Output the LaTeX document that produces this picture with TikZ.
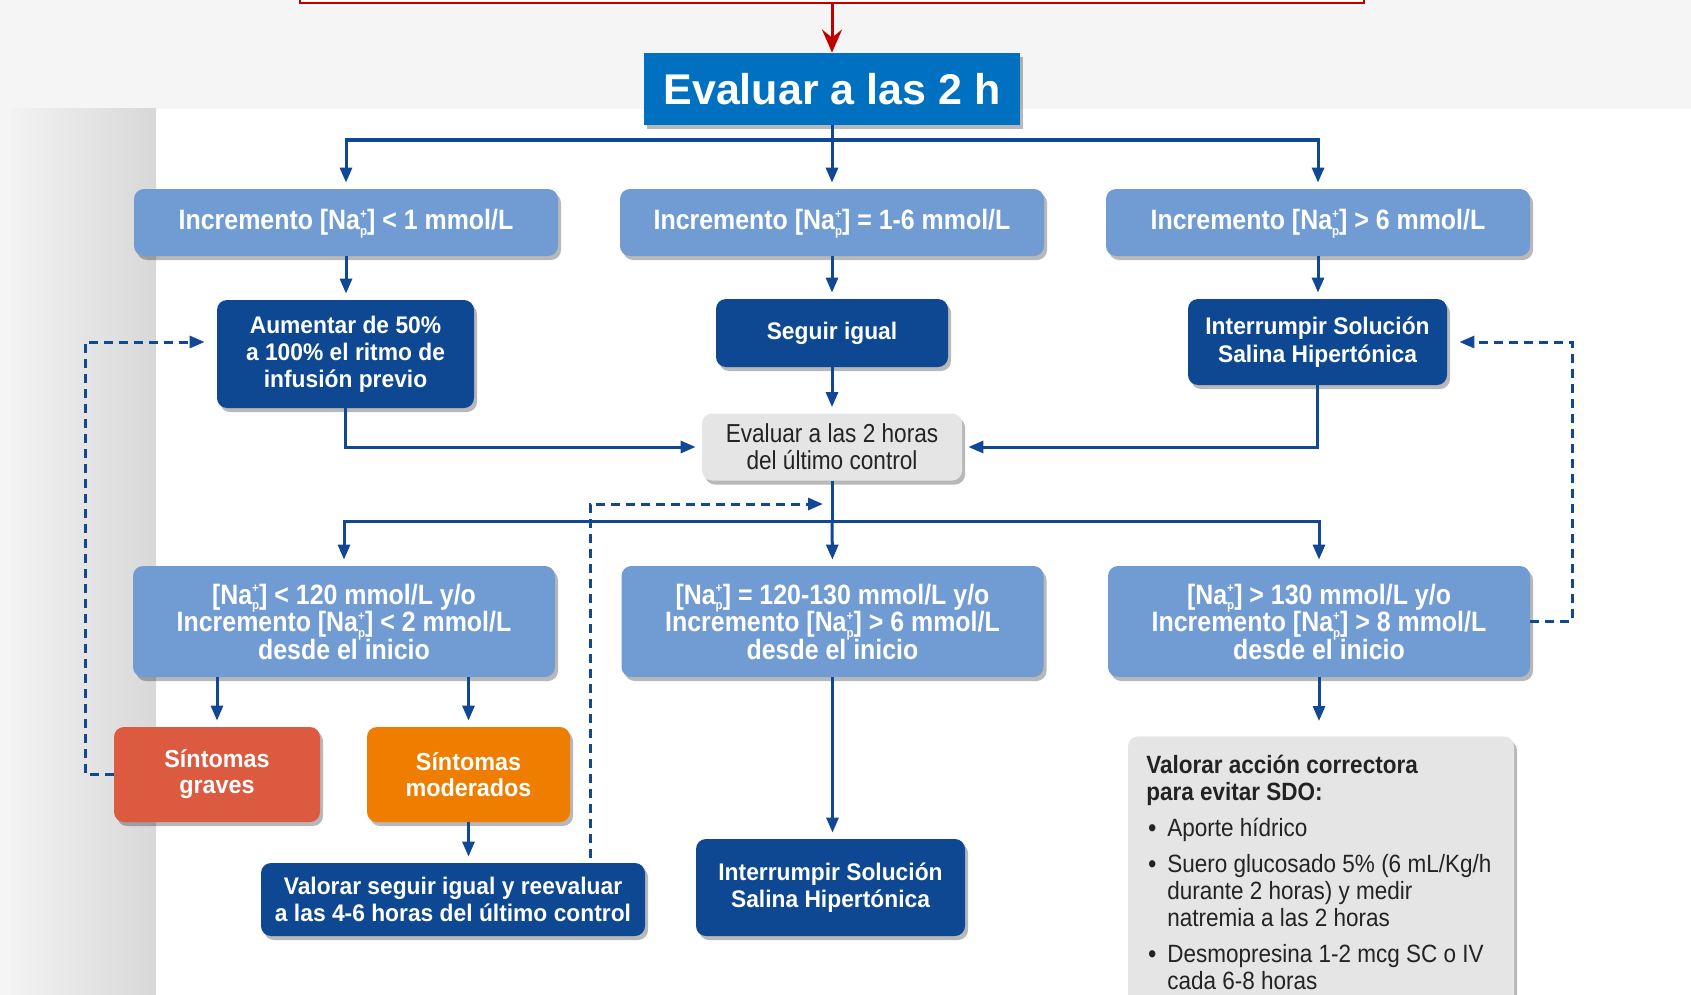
\documentclass[tikz,border=0pt]{standalone}
\usepackage{fontspec}
\setmainfont{Liberation Sans}
\newfontfamily\fwide[FakeStretch=0.95]{Liberation Sans}
\newfontfamily\frow[FakeStretch=0.89]{Liberation Sans}
\newfontfamily\fmidw[FakeStretch=0.87]{Liberation Sans}
\newfontfamily\fgray[FakeStretch=0.9]{Liberation Sans}
\usetikzlibrary{arrows.meta,shadows}
\definecolor{lblue}{RGB}{112,156,211}
\definecolor{dblue}{RGB}{14,72,146}
\definecolor{lnblue}{RGB}{16,72,150}
\definecolor{tblue}{RGB}{0,112,192}
\definecolor{redc}{RGB}{192,0,0}
\definecolor{grav}{RGB}{220,90,64}
\definecolor{moder}{RGB}{239,125,0}
\definecolor{boxgray}{RGB}{229,229,229}
\definecolor{bandgray}{RGB}{245,245,245}
\definecolor{stripL}{RGB}{242,242,242}
\definecolor{stripD}{RGB}{216,216,216}
\definecolor{txtdark}{RGB}{35,35,35}
\newcommand\nap{[Na\rlap{\smash{\raisebox{0.40em}{\fontsize{6.5}{6.5}\selectfont +}}}\smash{\raisebox{-0.2em}{\fontsize{6.5}{6.5}\selectfont p}}]}
\begin{document}
\begin{tikzpicture}[x=0.5pt,y=-0.5pt,
  shd/.style={drop shadow={shadow xshift=1.5pt,shadow yshift=-2pt,opacity=0.28,fill=black}},
  box/.style={rounded corners=5pt, inner sep=0pt, align=center, text=white, shd},
  lbbox/.style={box, fill=lblue},
  rowone/.style={lbbox, minimum width=212pt, minimum height=33.5pt, font=\frow\bfseries\fontsize{14}{15}\selectfont},
  rowthree/.style={lbbox, minimum width=211pt, minimum height=55.5pt, font=\frow\bfseries\fontsize{14}{13.75}\selectfont},
  dbbox/.style={box, fill=dblue, font=\fwide\bfseries\fontsize{12}{13.5}\selectfont},
  symbox/.style={box, minimum height=47.5pt, font=\fwide\bfseries\fontsize{12.3}{13}\selectfont},
  conn/.style={draw=lnblue, line width=1.5pt},
  arr/.style={conn, -{Triangle[width=6pt,length=7.5pt]}, shorten >=3pt},
  darr/.style={conn, dash pattern=on 4.5pt off 3pt, -{Triangle[width=6pt,length=7.5pt]}, shorten >=6pt}
]
\useasboundingbox (0,0) rectangle (1691,995);
\clip (0,0) rectangle (1691,995);
% background
\fill[white] (0,0) rectangle (1691,995);
\fill[bandgray] (0,0) rectangle (1691,109);
\fill[bandgray] (0,109) rectangle (11,995);
\shade[left color=stripL, right color=stripD] (11,109) rectangle (156,995);

% top red box and title
\node[draw=redc, line width=1pt, fill=white, minimum width=532pt, minimum height=20pt, inner sep=0pt] (rb) at (832,-17) {};
\node[fill=tblue, minimum width=188pt, minimum height=36pt, inner sep=0pt, text=white,
      font=\bfseries\fontsize{21.5}{24}\selectfont, shd] (title) at (832,89) {Evaluar a las 2 h};
\draw[redc, line width=1.5pt, -{Stealth[width=10pt,length=11.5pt,inset=4pt]}] (rb.south) -- (title.north);

% row 1
\node[rowone] (a1) at (346,222.5) {Incremento \nap{} < 1 mmol/L};
\node[rowone] (b1) at (832,222.5) {Incremento \nap{} = 1-6 mmol/L};
\node[rowone] (c1) at (1318,222.5) {Incremento \nap{} > 6 mmol/L};

% row 2
\node[dbbox, minimum width=128.5pt, minimum height=54pt] (a2) at (345.5,354) {Aumentar de 50\%\\a 100\% el ritmo de\\infusión previo};
\node[dbbox, minimum width=116pt, minimum height=34pt] (b2) at (832,333) {Seguir igual};
\node[dbbox, minimum width=129.5pt, minimum height=43pt, font=\fwide\bfseries\fontsize{12}{14}\selectfont] (c2) at (1317.5,342) {Interrumpir Solución\\Salina Hipertónica};

% evaluation box
\node[box, fill=boxgray, text=txtdark, minimum width=130pt, minimum height=33.5pt,
      font=\fmidw\fontsize{13}{13.5}\selectfont] (e) at (832,447) {Evaluar a las 2 horas\\del último control};

% row 3
\node[rowthree] (a3) at (344,621.5) {\nap{} < 120 mmol/L y/o\\Incremento \nap{} < 2 mmol/L\\desde el inicio};
\node[rowthree] (b3) at (832.5,621.5) {\nap{} = 120-130 mmol/L y/o\\Incremento \nap{} > 6 mmol/L\\desde el inicio};
\node[rowthree] (c3) at (1319,621.5) {\nap{} > 130 mmol/L y/o\\Incremento \nap{} > 8 mmol/L\\desde el inicio};

% symptoms
\node[symbox, fill=grav, minimum width=103pt] (sg) at (217,774.5) {Síntomas\\graves};
\node[symbox, fill=moder, minimum width=101.5pt] (sm) at (468.5,774.5) {Síntomas\\moderados};

% bottom boxes
\node[dbbox, minimum width=192pt, minimum height=36.5pt] (vs) at (453,899.5) {Valorar seguir igual y reevaluar\\a las 4-6 horas del último control};
\node[dbbox, minimum width=134.5pt, minimum height=48.5pt] (ib) at (830.5,887.5) {Interrumpir Solución\\Salina Hipertónica};

% gray info box
\node[fill=boxgray, rounded corners=5pt, inner sep=0pt, minimum width=193pt, minimum height=150pt, anchor=north, shd] (gb) at (1321,736) {};
\node[anchor=north west, inner sep=0pt, text=txtdark, align=left,
      font=\fgray\fontsize{12.5}{13.5}\selectfont] (gt) at (1146,754) {%
\begin{tabular}{@{}p{10.5pt}@{}l@{}}
\multicolumn{2}{@{}l@{}}{\bfseries Valorar acción correctora}\\
\multicolumn{2}{@{}l@{}}{\bfseries para evitar SDO:}\\[4.5pt]
\hspace{1pt}\textbf{•}&Aporte hídrico\\[4.5pt]
\hspace{1pt}\textbf{•}&Suero glucosado 5\% (6 mL/Kg/h\\
&durante 2 horas) y medir\\
&natremia a las 2 horas\\[4.5pt]
\hspace{1pt}\textbf{•}&Desmopresina 1-2 mcg SC o IV\\
&cada 6-8 horas
\end{tabular}};

% connectors
\coordinate (t0) at (832,140);
\draw[conn] (title.south) -- (t0);
\draw[arr] (t0) -| (a1.north);
\draw[arr] (t0) -- (b1.north);
\draw[arr] (t0) -| (c1.north);

\draw[arr] (a1.south) -- (a1.south |- a2.north);
\draw[arr] (b1.south) -- (b2.north);
\draw[arr] (c1.south) -- (c1.south |- c2.north);

\draw[arr] (a2.south) |- (e.west);
\draw[arr] (b2.south) -- (e.north);
\draw[arr] (c2.south) |- (e.east);

\coordinate (t1) at (832,521);
\draw[conn] (e.south) -- (t1);
\draw[arr] (t1) -| (a3.north);
\draw[arr] (t1) -- (b3.north);
\draw[arr] (t1) -| (c3.north);

\draw[arr] (a3.south -| sg.north) -- (sg.north);
\draw[arr] (a3.south -| sm.north) -- (sm.north);
\draw[arr] (sm.south) -- (sm.south |- vs.north);
\draw[arr] (b3.south) -- (b3.south |- ib.north);
\draw[arr, shorten >=7.5pt] (c3.south) -- (c3.south |- gb.north);

% dashed feedback connectors
\coordinate (dl) at (85,342);
\coordinate (dr) at (1572,342);
\coordinate (dm) at (590,504);
\coordinate (dme) at (826,504);
\draw[darr] (sg.west) -| (dl) -- (dl -| a2.west);
\draw[darr] (c3.east) -| (dr) -- (c2.east);
\draw[darr, shorten >=1.5pt, shorten <=2.5pt] (vs.north -| dm) -- (dm) -- (dme);
\end{tikzpicture}
\end{document}
